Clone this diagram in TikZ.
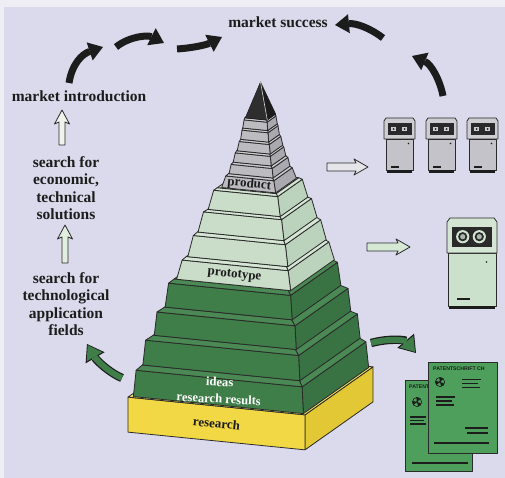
\documentclass[tikz,border=0pt]{standalone}
\usepackage{fontspec}
\setmainfont{Liberation Serif}
\newfontfamily\docfont{Liberation Sans}
\usetikzlibrary{arrows.meta}

\definecolor{pagec}{HTML}{EEEEF4}
\definecolor{bg}{HTML}{DADAEC}
\definecolor{ink}{HTML}{1C1C1C}
\definecolor{edgec}{HTML}{2A2A2A}
\definecolor{dgF}{HTML}{3F7D49}
\definecolor{dgS}{HTML}{3A7343}
\definecolor{dgT}{HTML}{4A8954}
\definecolor{lgF}{HTML}{C9DDC9}
\definecolor{lgS}{HTML}{BBD2BD}
\definecolor{lgT}{HTML}{D6E6D5}
\definecolor{gyF}{HTML}{BBBBC0}
\definecolor{gyS}{HTML}{A9A9AF}
\definecolor{gyT}{HTML}{CCCCD1}
\definecolor{ylF}{HTML}{F1D844}
\definecolor{ylS}{HTML}{E2C834}
\definecolor{ylT}{HTML}{F5E160}
\definecolor{docG}{HTML}{4E9F5B}
\definecolor{cgH}{HTML}{CDCDD2}
\definecolor{cgB}{HTML}{C3C3C9}
\definecolor{clH}{HTML}{D4E6D3}
\definecolor{clB}{HTML}{CCE1CC}
\definecolor{panel}{HTML}{2A2A2A}
\definecolor{hwhite}{HTML}{F1F2EC}
\definecolor{hgreen}{HTML}{E2EEE0}
\definecolor{hgrey}{HTML}{E5E5EA}
\definecolor{hgreen2}{HTML}{D6E9D5}

% straight outlined arrow, drawn from a named tail point
\newcommand\hollowarrow[6]{%
  \begin{scope}[shift={(#1)}, rotate=#2]
    \filldraw[edge, fill=#6] (0,-#4) -- (#3-12,-#4) -- (#3-14,-#5) -- (#3,0)
      -- (#3-14,#5) -- (#3-12,#4) -- (0,#4) -- cycle;
  \end{scope}}

% small grey computer cabinet, top-left corner given
\newcommand\smallcomputer[1]{%
  \begin{scope}[shift={(#1)}]
    \filldraw[edge, fill=cgB] (2,21) rectangle (29,52);
    \fill[ink] (3,52) rectangle (28,55);
    \filldraw[edge, fill=cgH] (0,3) -- (2,0) -- (29,0) -- (31,3) -- (31,21) -- (0,21) -- cycle;
    \fill[panel] (3.5,5) rectangle (27.5,17);
    \foreach \u in {9.5,20.5}{
      \fill[cgH] (\u-2.4,8.6) rectangle (\u+2.4,13.4);
      \fill[ink] (\u,11) circle (1);}
    \fill[ink] (24.5,25.5) circle (0.8);
    \draw[ink, line width=1.8pt] (7,49) -- (15,49);
  \end{scope}}

% round emblem printed on the patent sheets
\newcommand\emblem[1]{%
  \begin{scope}[shift={(#1)}]
    \draw[ink, line width=0.6pt] (0,0) circle (4.6);
    \foreach \t in {20,140,260}{
      \fill[ink] (0,0) -- (\t:4.6) arc[start angle=\t, end angle=\t+55, radius=4.6] -- cycle;}
    \fill[ink] (0,0) circle (1.2);
  \end{scope}}

\begin{document}
\begin{tikzpicture}[x=1pt, y=-1pt, line join=round,
  edge/.style={draw=edgec, line width=0.8pt},
  lbl/.style={font=\fontsize{15.5}{17.3}\selectfont\bfseries, text=ink, inner sep=0pt, align=center},
  plbl/.style={font=\fontsize{13}{13}\selectfont\bfseries, text=ink, inner sep=0pt, rotate=-5.7},
  wlbl/.style={font=\fontsize{12.6}{12.6}\selectfont\bfseries, text=white, inner sep=0pt, rotate=-3},
  bigarrow/.style={draw=ink, line width=7pt, -{Triangle[length=14pt,width=19pt,line width=0pt]}},
  grarrowout/.style={draw=ink, line width=8.4pt, -{Triangle[length=16pt,width=22pt,line width=0pt]}},
  grarrowin/.style={draw=dgF, line width=6pt, shorten >=1.4pt, -{Triangle[length=13.4pt,width=18pt,line width=0pt]}},
  docline/.style={draw=ink, line width=1.1pt},
  docfont/.style={font=\docfont\fontsize{5.2}{5.2}\selectfont\bfseries, text=ink, inner sep=0pt, anchor=west}]

\useasboundingbox (0,0) rectangle (505,478);
\fill[pagec] (0,0) rectangle (505,478);
\fill[bg] (4,7) rectangle (505,478);

% ---------------- pyramid (oblique view, x along front, y up, z into depth)
\begin{scope}[shift={(250.5,417)}, x={(1pt,-0.1pt)}, y={(0pt,1pt)}, z={(0.384pt,0.271pt)}]
  % yellow research base
  \filldraw[edge, fill=ylS] (88.5,0,-88.5) -- (88.5,0,88.5) -- (88.5,35,88.5) -- (88.5,35,-88.5) -- cycle;
  \filldraw[edge, fill=ylF] (-88.5,0,-88.5) -- (88.5,0,-88.5) -- (88.5,35,-88.5) -- (-88.5,35,-88.5) -- cycle;
  \filldraw[edge, fill=ylT] (-88.5,35,-88.5) -- (88.5,35,-88.5) -- (88.5,35,88.5) -- (-88.5,35,88.5) -- cycle;
  % bevelled slabs: centre shift, bottom, face top, bevel top, half sizes, colour set
  \foreach \cx/\ya/\yb/\yc/\a/\b/\c/\p in {
      0.5/35/61/65.5/85/83/78.5/dg,
      1/65.5/90/94/78.5/76.5/71/dg,
      2/94/117/121/71/69/63.5/dg,
      2.5/121/144.5/148/63.5/61/57/dg,
      5/148/166.5/169.5/57/53/50/lg,
      6.5/169.5/190/193/50/46/43/lg,
      7/193/212.5/214.5/43/39/36/lg,
      7.5/214.5/233/235/36/32/29.5/lg,
      8.5/235/246/248/27/24/22/gy,
      9/248/257/259/22/20.5/19/gy,
      9/259/268/270/19/17.5/16.5/gy,
      9.5/270/279/281/16.5/15/14/gy,
      9.5/281/290/292/14/13/12.5/gy,
      9.5/292/300/302/12.5/11.5/11/gy}{
    \filldraw[edge, fill=\p S] (\cx+\a,\ya,-\a) -- (\cx+\a,\ya,\a) -- (\cx+\b,\yb,\b) -- (\cx+\b,\yb,-\b) -- cycle;
    \filldraw[edge, fill=\p F] (\cx-\a,\ya,-\a) -- (\cx+\a,\ya,-\a) -- (\cx+\b,\yb,-\b) -- (\cx-\b,\yb,-\b) -- cycle;
    \filldraw[edge, fill=\p T] (\cx-\c,\yc,-\c) -- (\cx+\c,\yc,-\c) -- (\cx+\c,\yc,\c) -- (\cx-\c,\yc,\c) -- cycle;
    \filldraw[edge, fill=\p T] (\cx+\b,\yb,-\b) -- (\cx+\b,\yb,\b) -- (\cx+\c,\yc,\c) -- (\cx+\c,\yc,-\c) -- cycle;
    \filldraw[edge, fill=\p T] (\cx-\b,\yb,-\b) -- (\cx+\b,\yb,-\b) -- (\cx+\c,\yc,-\c) -- (\cx-\c,\yc,-\c) -- cycle;
  }
  % black apex
  \filldraw[draw=ink, line width=0.5pt, fill=ink] (21,302,-11) -- (21,302,11) -- (10,336,0) -- cycle;
  \filldraw[draw=ink, line width=0.5pt, fill=black!82] (-1,302,-11) -- (21,302,-11) -- (10,336,0) -- cycle;
  \draw[white!85!black, line width=0.6pt] (10,336,0) -- (21,302,-11);
  % level captions
  \node[plbl] (research) at (0,17.5,-88.5) {research};
  \node[wlbl] (ideas) at (1.5,58,-84) {ideas};
  \node[wlbl] (results) at (0.5,41,-84) {research results};
  \node[plbl] (prototype) at (5,157,-55) {prototype};
  \node[plbl] (product) at (8.5,240.5,-25.5) {product};
\end{scope}

% ---------------- left column of stages
\node[lbl] (ms) at (278,22) {market success};
\node[lbl] (mi) at (79,96) {market introduction};
\node[lbl] (s1) at (66,188) {search for\\economic,\\technical\\solutions};
\node[lbl] (s2) at (66,304) {search for\\technological\\application\\fields};

\coordinate (u1) at (62,145);
\coordinate (u2) at (65,263);
\hollowarrow{u1}{90}{35}{3}{7.5}{hwhite}
\hollowarrow{u2}{90}{38}{3}{7.5}{hgreen}

% ---------------- arrows towards the products
\coordinate (r1) at (327,167);
\coordinate (r2) at (367,247);
\hollowarrow{r1}{0}{41}{4}{8}{hgrey}
\hollowarrow{r2}{0}{43}{4}{8}{hgreen2}

% ---------------- black arrows of the market cycle
\coordinate (b1s) at (69,83);   \coordinate (b1e) at (103,47);
\coordinate (b2s) at (116,47);  \coordinate (b2e) at (164,43);
\coordinate (b3s) at (177,49);  \coordinate (b3e) at (222,37);
\coordinate (b4s) at (383,38);  \coordinate (b4e) at (335,25);
\coordinate (b5s) at (443,96);  \coordinate (b5e) at (412,56);
\draw[bigarrow] (b1s) .. controls (72,64) and (82,54) .. (b1e);
\draw[bigarrow] (b2s) .. controls (130,36) and (148,35) .. (b2e);
\draw[bigarrow] (b3s) .. controls (192,48) and (206,45) .. (b3e);
\draw[bigarrow] (b4s) .. controls (370,28) and (356,23) .. (b4e);
\draw[bigarrow] (b5s) .. controls (440,80) and (431,64) .. (b5e);

% ---------------- green arrows
\coordinate (g1s) at (122,378); \coordinate (g1e) at (87,344);
\coordinate (g2s) at (371,343); \coordinate (g2e) at (416,353);
\draw[grarrowout] (g1s) .. controls (110,373) and (97,361) .. (g1e);
\draw[grarrowin]  (g1s) .. controls (110,373) and (97,361) .. (g1e);
\draw[grarrowout] (g2s) .. controls (390,338) and (405,340) .. (g2e);
\draw[grarrowin]  (g2s) .. controls (390,338) and (405,340) .. (g2e);

% ---------------- three computers
\coordinate (c1) at (384,118);
\coordinate (c2) at (426,118);
\coordinate (c3) at (467,118);
\smallcomputer{c1}
\smallcomputer{c2}
\smallcomputer{c3}

% ---------------- prototype computer
\coordinate (bc) at (447,218);
\begin{scope}[shift={(bc)}]
  \filldraw[edge, fill=clB] (1,35) rectangle (49,88);
  \fill[ink] (2,88) rectangle (48,91);
  \filldraw[edge, fill=clH] (0,4) -- (3,0) -- (47,0) -- (50,4) -- (50,35) -- (0,35) -- cycle;
  \fill[panel] (4.7,8.7) rectangle (44.7,28.7);
  \foreach \u in {15.7,32.3}{
    \fill[clH] (\u,18.7) circle (6.6);
    \fill[panel] (\u,18.7) circle (4.6);
    \fill[clH!80!black] (\u,18.7) circle (2.6);}
  \fill[ink] (39.5,44) circle (0.9);
  \draw[ink, line width=2pt] (10,81) -- (23,81);
\end{scope}

% ---------------- patent sheets
\filldraw[edge, line width=1pt, fill=docG] (405,380) rectangle (472,471);
\node[docfont] (pt1) at (409,386.5) {PATENTSCHRIFT};
\emblem{417,402}
\draw[docline] (410,417) -- (426,417);
\draw[docline] (410,420.5) -- (424,420.5);
\draw[docline] (410,424) -- (426,424);
\draw[docline] (412,463) -- (468,463);

\filldraw[edge, line width=1pt, fill=docG] (428,362) rectangle (497,453);
\node[docfont] (pt2) at (433,369) {PATENTSCHRIFT CH};
\emblem{440,382}
\draw[docline] (462,379.5) -- (481,379.5);
\draw[docline] (462,383.5) -- (478,383.5);
\draw[docline] (462,387.5) -- (480,387.5);
\draw[docline] (436,397) -- (455,397);
\draw[docline] (436,401) -- (452,401);
\draw[docline] (436,405) -- (454,405);
\draw[docline] (465,428) -- (488,428);
\draw[docline] (467,433) -- (488,433);
\draw[docline] (434,443) -- (489,443);
\end{tikzpicture}
\end{document}
